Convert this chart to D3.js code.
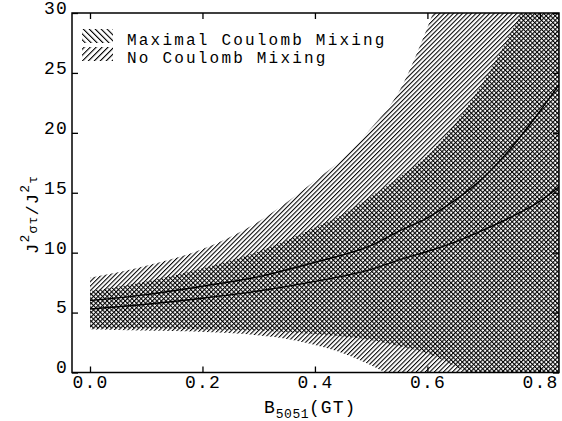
<!DOCTYPE html>
<html><head><meta charset="utf-8">
<script src="https://cdn.jsdelivr.net/npm/d3@7"></script>
<style>
body{margin:0;background:#fff}
text{font-family:"Liberation Mono","DejaVu Sans Mono",monospace;fill:#000}
</style>
</head><body>
<svg id="c" width="562" height="421"></svg>
<script>
// ---- data ----
const xTicks = [0, 0.2, 0.4, 0.6, 0.8];
const yTicks = [0, 5, 10, 15, 20, 25, 30];

// "No Coulomb Mixing" band (///)
const noX     = [0, 0.1, 0.2, 0.3, 0.35, 0.4, 0.45, 0.5, 0.55, 0.6, 0.65, 0.84];
const noUpper = [7.9, 8.9, 10.3, 12.6, 14.2, 16.0, 17.9, 20.4, 23.5, 28.8, 35, 45];
const noLowX  = [0, 0.1, 0.2, 0.3, 0.35, 0.4, 0.45, 0.5, 0.55, 0.84];
const noLower = [3.6, 3.5, 3.4, 3.1, 2.8, 2.3, 1.6, 0.6, -0.6, -4];

// "Maximal Coulomb Mixing" band (\\\)
const maxX     = [0, 0.1, 0.2, 0.3, 0.4, 0.45, 0.5, 0.55, 0.6, 0.65, 0.7, 0.75, 0.8, 0.84];
const maxUpper = [6.8, 7.6, 8.7, 10.1, 12.1, 13.2, 14.7, 16.3, 18.1, 20.8, 24.3, 28.5, 33, 36];
const maxLowX  = [0, 0.1, 0.2, 0.3, 0.4, 0.5, 0.55, 0.6, 0.65, 0.7, 0.84];
const maxLower = [3.7, 3.7, 3.6, 3.5, 3.2, 2.7, 2.2, 1.6, 0.5, -0.8, -3];

// central curves
const lineX     = [0, 0.1, 0.2, 0.3, 0.4, 0.5, 0.55, 0.6, 0.65, 0.7, 0.75, 0.8, 0.834];
const lineUpper = [6.0, 6.5, 7.2, 8.0, 9.2, 10.6, 11.8, 12.9, 14.4, 16.3, 18.8, 21.8, 24.0];
const lineLower = [5.3, 5.7, 6.2, 6.8, 7.6, 8.6, 9.4, 10.1, 10.9, 11.9, 13.0, 14.3, 15.5];

const legendLabels = ["Maximal Coulomb Mixing", "No Coulomb Mixing"];

// ---- layout ----
const L = 72, R = 559, T = 13, B = 372.5;
const svg = d3.select("#c");
const x = d3.scaleLinear().domain([-0.032, 0.834]).range([L, R]);
const y = d3.scaleLinear().domain([0, 30]).range([B, T]);

const defs = svg.append("defs");
function hatch(id, angle, sp, sw) {
  const p = defs.append("pattern").attr("id", id)
    .attr("patternUnits", "userSpaceOnUse")
    .attr("width", sp).attr("height", 20)
    .attr("patternTransform", `rotate(${angle})`);
  p.append("rect").attr("x", 0).attr("y", 0).attr("width", sw).attr("height", 20).attr("fill", "#000");
}
hatch("fwd", 45, 3.2, 1.05);
hatch("bwd", -45, 3.2, 1.05);
hatch("fwdL", 45, 4.2, 1.1);
hatch("bwdL", -45, 4.2, 1.1);

defs.append("clipPath").attr("id", "plotClip")
  .append("rect").attr("x", L).attr("y", T).attr("width", R - L).attr("height", B - T);

const g = svg.append("g").attr("clip-path", "url(#plotClip)");
const curve = d3.line().x(d => x(d[0])).y(d => y(d[1])).curve(d3.curveMonotoneX);

function reversedEdge(pts) {
  const tmp = svg.append("path").attr("d", curve(pts));
  const node = tmp.node(), len = node.getTotalLength();
  let s = "";
  for (let i = 80; i >= 0; i--) {
    const p = node.getPointAtLength(len * i / 80);
    s += "L" + p.x + "," + p.y;
  }
  tmp.remove();
  return s;
}
function bandPath(xu, yu, xl, yl) {
  return curve(d3.zip(xu, yu)) + reversedEdge(d3.zip(xl, yl)) + "Z";
}

g.append("path").attr("d", bandPath(noX, noUpper, noLowX, noLower)).attr("fill", "url(#fwd)");
g.append("path").attr("d", bandPath(maxX, maxUpper, maxLowX, maxLower)).attr("fill", "url(#bwd)");

g.append("path").attr("d", curve(d3.zip(lineX, lineUpper))).attr("fill", "none").attr("stroke", "#000").attr("stroke-width", 1.4);
g.append("path").attr("d", curve(d3.zip(lineX, lineLower))).attr("fill", "none").attr("stroke", "#000").attr("stroke-width", 1.4);

// ---- axes ----
const fmt = d3.format(".1f");
const axB = svg.append("g").attr("transform", `translate(0,${B})`)
  .call(d3.axisBottom(x).tickValues(xTicks).tickFormat(fmt).tickSizeInner(-6).tickSizeOuter(0).tickPadding(3));
const axT = svg.append("g").attr("transform", `translate(0,${T})`)
  .call(d3.axisTop(x).tickValues(xTicks).tickFormat("").tickSizeInner(-6).tickSizeOuter(0));
const axL = svg.append("g").attr("transform", `translate(${L},0)`)
  .call(d3.axisLeft(y).tickValues(yTicks).tickSizeInner(-6).tickSizeOuter(0).tickPadding(4));
const axR = svg.append("g").attr("transform", `translate(${R},0)`)
  .call(d3.axisRight(y).tickValues(yTicks).tickFormat("").tickSizeInner(-6).tickSizeOuter(0));
[axB, axT, axL, axR].forEach(a => {
  a.select(".domain").remove();
  a.selectAll(".tick line").attr("stroke", "#000").attr("stroke-width", 1.3);
  a.selectAll("text").attr("font-family", "Liberation Mono").attr("font-size", 18).attr("letter-spacing", 1.2).attr("fill", "#000");
});
axL.selectAll(".tick text").attr("dy", "0.02em");

svg.append("rect").attr("x", L).attr("y", T).attr("width", R - L).attr("height", B - T)
  .attr("fill", "none").attr("stroke", "#000").attr("stroke-width", 1.5);

// ---- axis titles ----
const xt = svg.append("text").attr("x", 264).attr("y", 413).attr("font-size", 18).attr("letter-spacing", 1);
xt.append("tspan").text("B");
xt.append("tspan").attr("font-size", 13).attr("dy", 5).attr("letter-spacing", 0.5).text("5051");
xt.append("tspan").attr("dy", -5).text("(GT)");

const yt = svg.append("text").attr("transform", "translate(38,254) rotate(-90)")
  .attr("font-size", 17).attr("letter-spacing", 1.2);
yt.append("tspan").text("J");
yt.append("tspan").attr("font-size", 13).attr("dy", -9).text("2");
yt.append("tspan").attr("font-size", 13).attr("dy", 8).text("στ");
yt.append("tspan").attr("dy", 1).text("/");
yt.append("tspan").text("J");
yt.append("tspan").attr("font-size", 13).attr("dy", -9).text("2");
yt.append("tspan").attr("font-size", 13).attr("dy", 8).text("τ");

// ---- legend ----
const lg = svg.append("g");
const fills = ["url(#bwdL)", "url(#fwdL)"];
legendLabels.forEach((t, i) => {
  lg.append("rect").attr("x", 82).attr("y", 29 + i * 18).attr("width", 31).attr("height", 14).attr("fill", fills[i]);
  lg.append("text").attr("x", 127).attr("y", 45 + i * 18).attr("font-size", 16).attr("letter-spacing", 2.2).text(t);
});
</script>
</body></html>
